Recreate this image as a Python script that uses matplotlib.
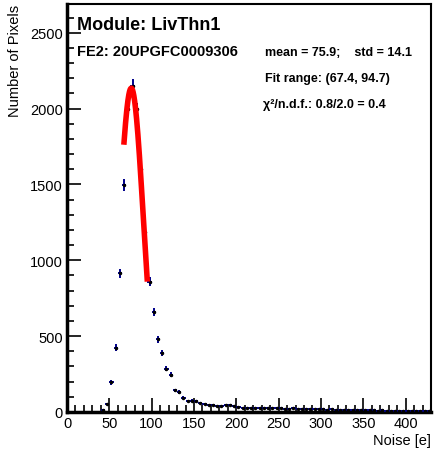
import numpy as np
import matplotlib
matplotlib.use("Agg")
import matplotlib.pyplot as plt
from matplotlib.ticker import MultipleLocator

plt.rcParams['font.family'] = ['Liberation Sans', 'DejaVu Sans']

# histogram: bin centres (width 5) and counts
bin_centers = np.arange(42.5, 430, 5.0)
counts = [15, 55, 195, 425, 915, 1495, 1995, 2150, 1995, 1600, 1190, 860,
          660, 480, 390, 285, 245, 142, 132, 95, 73,
          75, 70, 57, 50, 48, 44, 42, 41, 43, 45, 38, 32, 28, 26, 27, 24,
          27, 25, 28, 24, 26, 25, 23, 22, 24, 21, 20, 22, 21, 20, 17, 18,
          16, 17, 15, 16, 14, 15, 12, 13, 11, 12, 10, 11, 9, 10, 8, 9,
          7, 8, 6, 7, 6, 5, 6, 4, 5]
bin_centers = bin_centers[:len(counts)]
counts = np.array(counts, dtype=float)

# gaussian fit shown on the chart
fit_lo, fit_hi = 67.4, 94.7
fit_mean, fit_std, fit_amp = 75.9, 14.1, 2135

W, H = 434, 452
fig = plt.figure(figsize=(W / 100, H / 100), dpi=100)
ax = fig.add_axes([67 / W, 1 - 413 / H, (431 - 67) / W, (413 - 5) / H])

ax.errorbar(bin_centers, counts, xerr=2.5, yerr=np.sqrt(counts),
            fmt='.', color='black', markersize=3, ecolor='#00008b',
            elinewidth=1.4, capsize=0, zorder=3)

xf = np.linspace(fit_lo, fit_hi, 200)
yf = fit_amp * np.exp(-0.5 * ((xf - fit_mean) / fit_std) ** 2)
ax.plot(xf, yf, color='red', lw=4, zorder=4)

ax.set_xlim(0, 430)
ax.set_ylim(0, 2690)
ax.xaxis.set_major_locator(MultipleLocator(50))
ax.xaxis.set_minor_locator(MultipleLocator(10))
ax.yaxis.set_major_locator(MultipleLocator(500))
ax.yaxis.set_minor_locator(MultipleLocator(100))
ax.tick_params(which='both', direction='in', top=False, right=False,
               labelsize=10.5, width=1.2)
ax.tick_params(which='major', length=10, pad=3)
ax.tick_params(which='minor', length=5)
for s in ax.spines.values():
    s.set_linewidth(1.5)
ax.spines['bottom'].set_linewidth(2.5)
ax.spines['left'].set_linewidth(2.5)

ax.set_xlabel('Noise [e]', fontsize=10.5, loc='right', labelpad=2)
ax.set_ylabel('Number of Pixels', fontsize=10.5, loc='top', labelpad=6)

def px(x, y):
    return x / W, 1 - y / H

fig.text(*px(77, 26), 'Module: LivThn1', fontsize=13, fontweight='bold',
         va='center', ha='left')
fig.text(*px(77, 52), 'FE2: 20UPGFC0009306', fontsize=10.5,
         fontweight='bold', va='center', ha='left')
fig.text(*px(265, 53), 'mean = 75.9;    std = 14.1', fontsize=9,
         fontweight='bold', va='center', ha='left')
fig.text(*px(265, 79), 'Fit range: (67.4, 94.7)', fontsize=9,
         fontweight='bold', va='center', ha='left')
fig.text(*px(263, 105), 'χ²/n.d.f.: 0.8/2.0 = 0.4', fontsize=9,
         fontweight='bold', va='center', ha='left')

fig.savefig('out.png', dpi=100)
